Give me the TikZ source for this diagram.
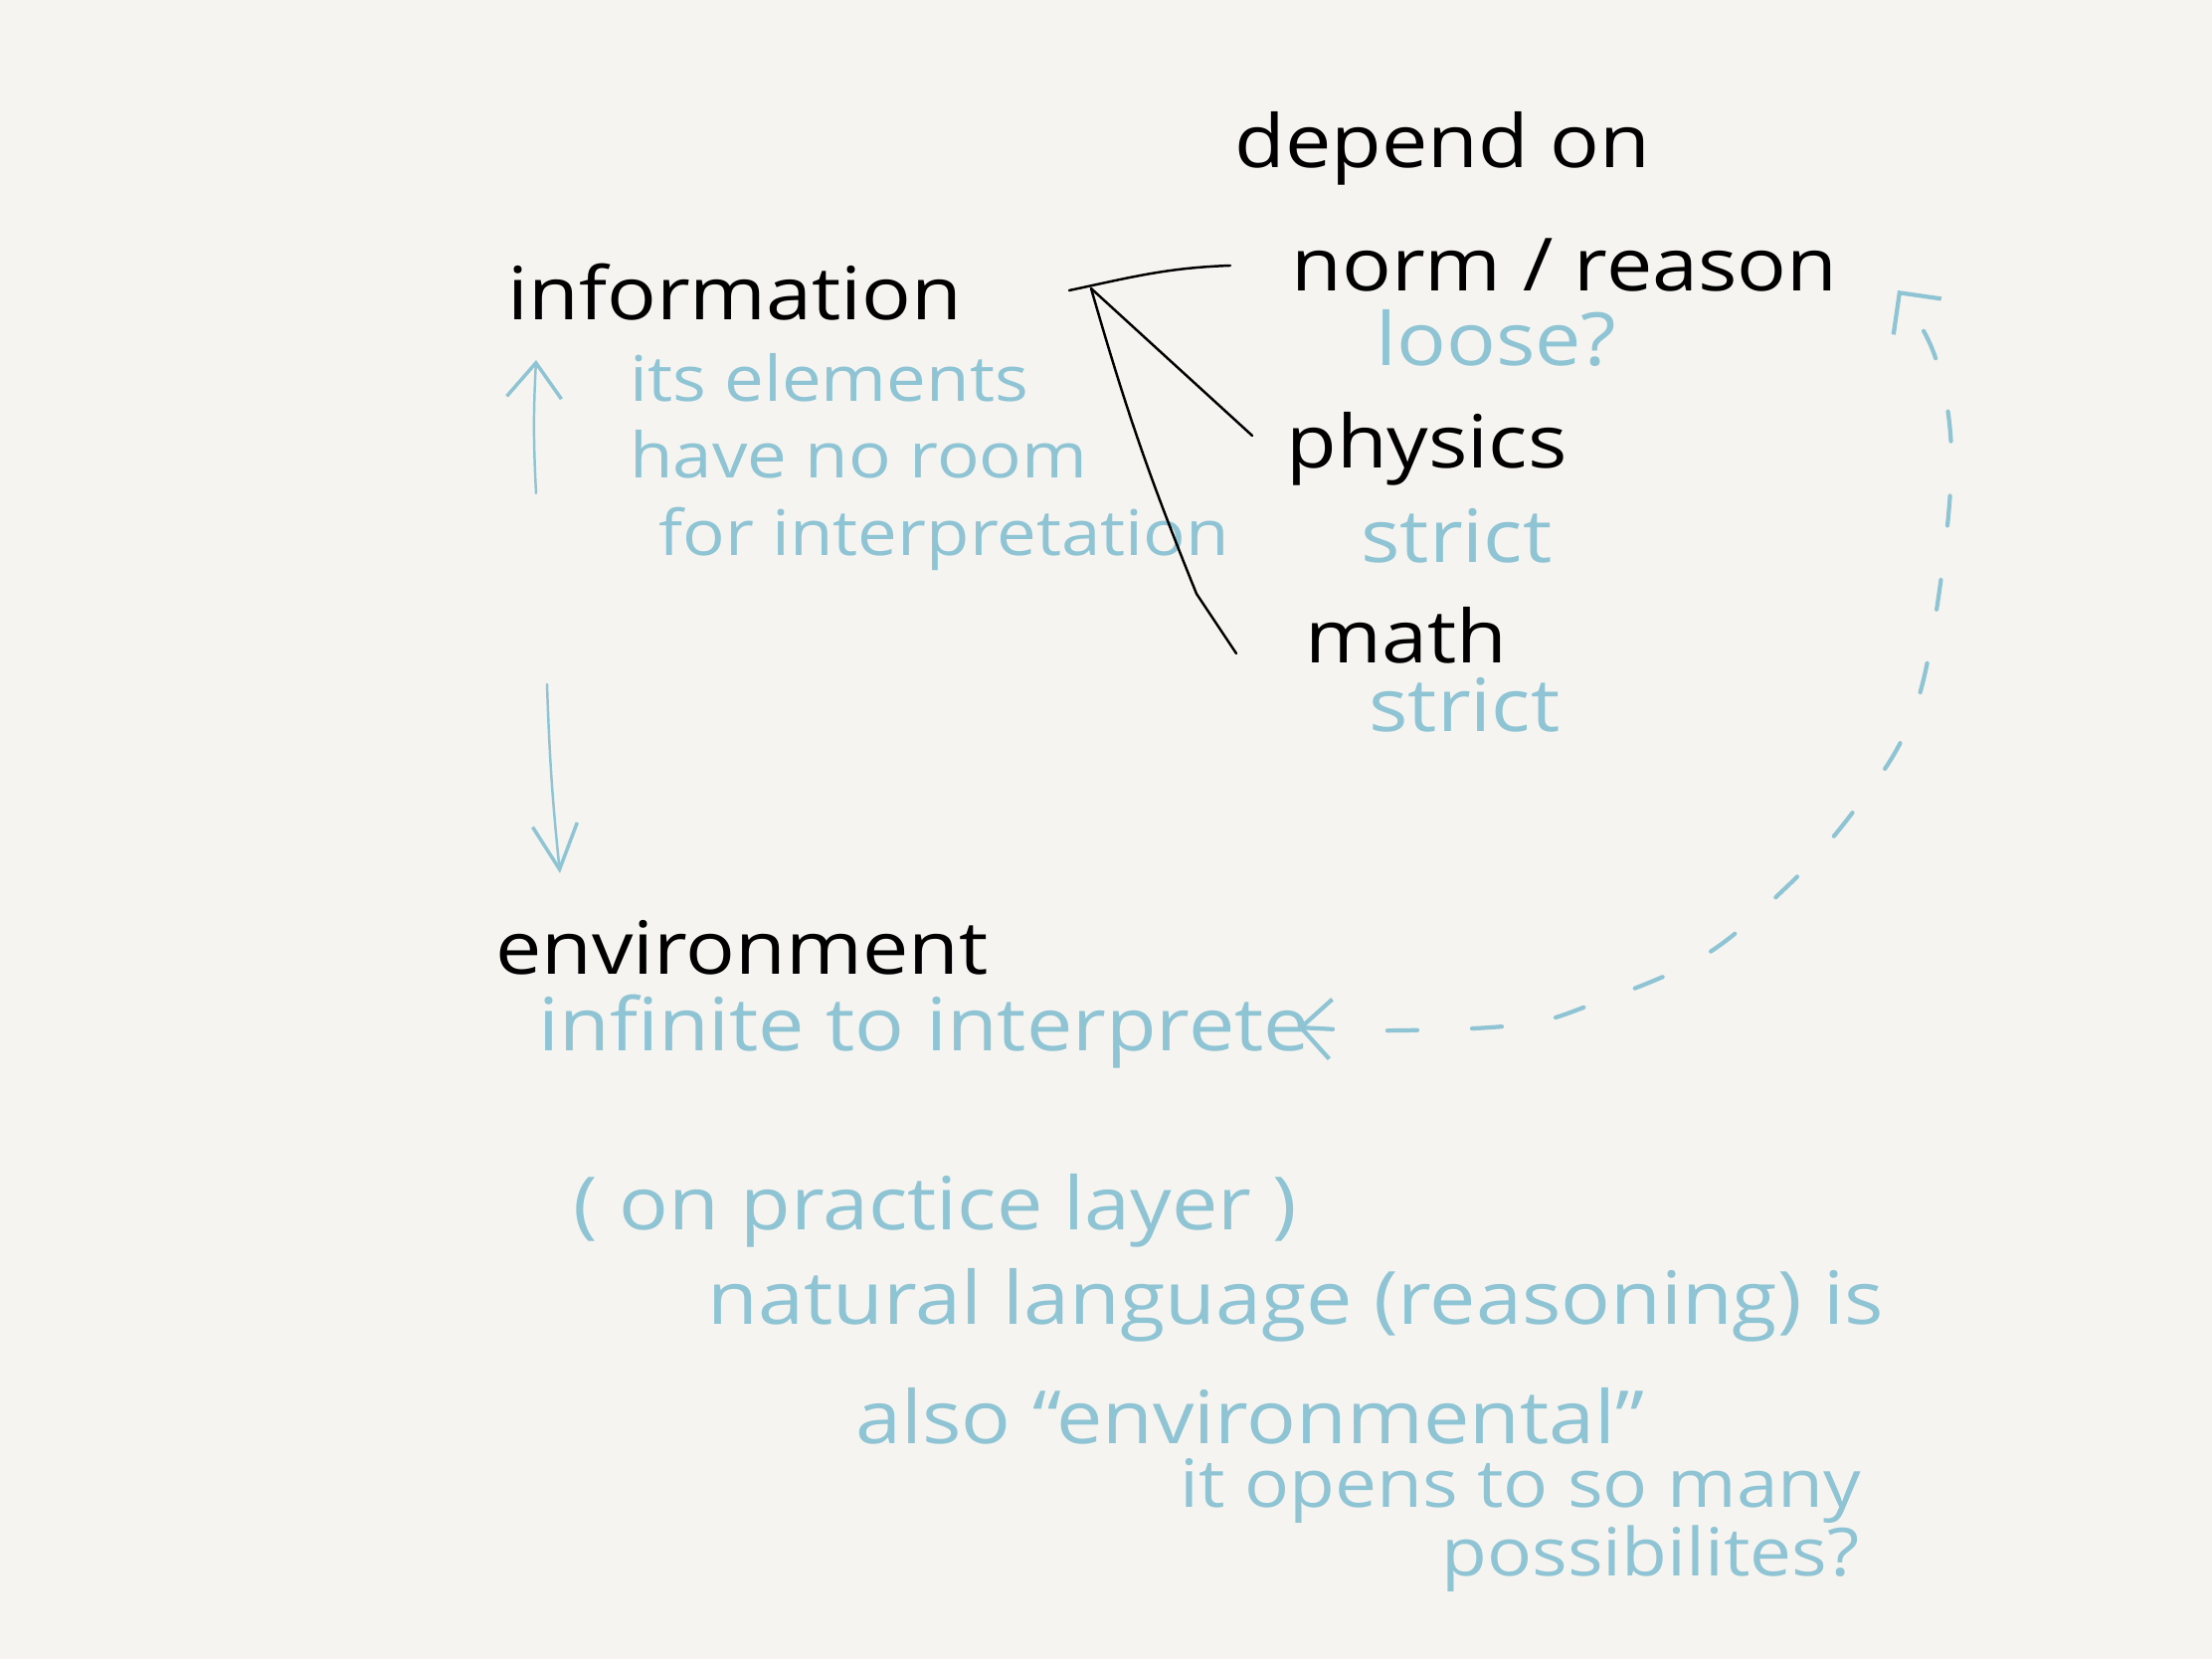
\documentclass[tikz,border=0pt]{standalone}
\usepackage{fontspec}
\setmainfont{Open Sans}[FakeStretch=1.12]
\usetikzlibrary{arrows.meta}
\definecolor{paper}{HTML}{F5F4F0}
\definecolor{pen}{HTML}{8EC4D4}

\begin{document}
\begin{tikzpicture}
        \fill[paper] (0,0) rectangle (22.24,16.68);
        \useasboundingbox (0,0) rectangle (22.24,16.68);
        \begin{scope}[every node/.style={text=black, anchor=west, font=\fontsize{21}{25}\selectfont}]
            \node (dep) at (12.29, 15.19) {depend on} ;
            \node (info) at (4.98, 13.74) {information} ;
            \node (norm) at (12.86, 14.01) {norm / reason} ;
            \node (phys) at (12.81, 12.17) {physics} ;
            \node (math) at (13.00, 10.29) {math} ;
            \node (env) at (4.86, 7.15) {environment} ;
        \end{scope}
        \begin{scope}[every node/.style={text=pen, anchor=west, font=\fontsize{21}{25}\selectfont}]
            \node (loose) at (13.71, 13.28) {loose?} ;
            \node (strictA) at (13.56, 11.29) {strict} ;
            \node (strictB) at (13.64, 9.59) {strict} ;
        \end{scope}
        \begin{scope}[every node/.style={text=pen, anchor=west, font=\fontsize{18}{22}\selectfont}]
            \node (elem) at (6.21, 12.88) {its elements} ;
            \node (room) at (6.21, 12.11) {have no room} ;
            \node (interp) at (6.50, 11.26) {for interpretation} ;
        \end{scope}
        \begin{scope}[every node/.style={text=pen, anchor=west, font=\fontsize{21}{25}\selectfont}]
            \node (inf) at (5.29, 6.31) {infinite to interprete} ;
            \node (layer) at (5.64, 4.51) {( on practice layer )} ;
            \node (nat) at (6.99, 3.56) {natural language (reasoning) is} ;
            \node (also) at (8.48, 2.44) {also “environmental”} ;
        \end{scope}
        \begin{scope}[every node/.style={text=pen, anchor=west, font=\fontsize{19}{23}\selectfont}]
            \node (opens) at (11.74, 1.69) {it opens to so many} ;
            \node (poss) at (14.37, 1.01) {possibilites?} ;
        \end{scope}

        % black lines meeting left of the three fields
        \coordinate (hub) at (10.97, 13.78) ;
        \coordinate (stub) at (10.75, 13.76) ;
        \coordinate (kink) at (12.03, 10.71) ;
        \begin{scope}[line width=0.7pt, line cap=round]
            \draw ([xshift=-0.49cm]norm.west) to[out=182, in=12] (stub) ;
            \draw (hub) -- ([xshift=-0.22cm, yshift=0.13cm]phys.west) ;
            \draw ([xshift=-0.57cm, yshift=-0.18cm]math.west) -- (kink) to[bend left=3] (hub) ;
        \end{scope}

        % teal arrows
        \coordinate (upfoot) at (5.39, 11.72) ;
        \coordinate (uptip) at (5.39, 13.06) ;
        \coordinate (downfoot) at (5.50, 9.80) ;
        \coordinate (downtip) at (5.63, 7.90) ;
        \coordinate (dend) at (13.05, 6.35) ;
        \coordinate (dtop) at (19.08, 13.76) ;
        \begin{scope}[draw=pen, line width=0.7pt, line cap=round]
            \draw [-{Straight Barb[length=0.35cm, width=0.55cm, line width=1pt]}] (upfoot) to[bend left=3] (uptip) ;
            \draw [-{Straight Barb[length=0.45cm, width=0.45cm, line width=1pt]}] (downfoot) to[bend right=2] (downtip) ;
            \draw [line width=1.2pt, dash pattern=on 0.3cm off 0.55cm,
                   {Straight Barb[length=0.3cm, width=0.6cm]}-{Straight Barb[length=0.3cm, width=0.6cm]}]
                plot[smooth, tension=0.6] coordinates {(dend) (14.1,6.32) (15.3,6.38) (16.0,6.58) (17.1,7.05)
                    (17.94,7.74) (18.58,8.45) (19.15,9.3) (19.43,10.3) (19.62,12.0) (19.46,13.08) (dtop)} ;
        \end{scope}
\end{tikzpicture}
\end{document}
